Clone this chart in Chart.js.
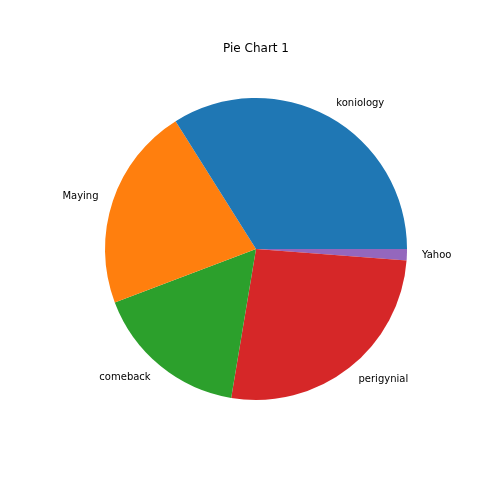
<!DOCTYPE html>
<html>
<head>
<meta charset="utf-8">
<script src="https://cdn.jsdelivr.net/npm/chart.js@4/dist/chart.umd.min.js"></script>
<style>
  html, body { margin: 0; padding: 0; background: #fff; }
  #wrap { width: 500px; height: 500px; }
</style>
</head>
<body>
<div id="wrap"><canvas id="pie" width="500" height="500"></canvas></div>
<script>
// slices in matplotlib order (counter-clockwise from 3 o'clock)
var LABELS = ['koniology', 'Maying', 'comeback', 'perigynial', 'Yahoo'];
var VALUES = [33.9, 21.8, 16.6, 26.4, 1.2];
var COLORS = ['#1f77b4', '#ff7f0e', '#2ca02c', '#d62728', '#9467bd'];
var TITLE = 'Pie Chart 1';
var FONT = "'DejaVu Sans', sans-serif";

// Chart.js goes clockwise, so feed the slices reversed, starting at 3 o'clock
var L = LABELS.slice().reverse(), V = VALUES.slice().reverse(), C = COLORS.slice().reverse();

var textPlugin = {
  id: 'mplText',
  afterDraw: function (chart) {
    var ctx = chart.ctx;
    var arcs = chart.getDatasetMeta(0).data;
    ctx.save();
    ctx.fillStyle = '#000';
    ctx.font = '10px ' + FONT;
    ctx.textBaseline = 'middle';
    arcs.forEach(function (a, i) {
      var mid = (a.startAngle + a.endAngle) / 2;
      var r = a.outerRadius * 1.1;
      var x = a.x + r * Math.cos(mid), y = a.y + r * Math.sin(mid);
      ctx.textAlign = x > a.x ? 'left' : 'right';
      ctx.fillText(L[i], x, y);
    });
    ctx.font = '12px ' + FONT;
    ctx.textAlign = 'center';
    ctx.fillText(TITLE, arcs[0].x, 49);
    ctx.restore();
  }
};

new Chart(document.getElementById('pie').getContext('2d'), {
  type: 'pie',
  data: { labels: L, datasets: [{ data: V, backgroundColor: C, borderWidth: 0 }] },
  options: {
    responsive: false, animation: false, rotation: 90,
    layout: { padding: { left: 105, right: 93, top: 98, bottom: 100 } },
    plugins: { legend: { display: false }, tooltip: { enabled: false }, title: { display: false } }
  },
  plugins: [textPlugin]
});
</script>
</body>
</html>
